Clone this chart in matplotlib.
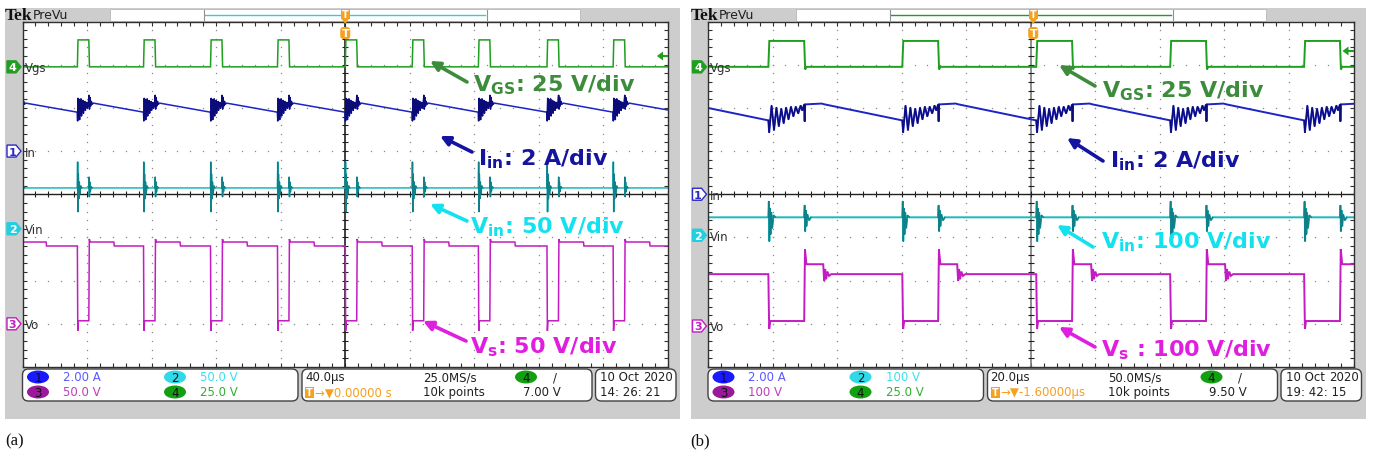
import numpy as np
import matplotlib.pyplot as plt
from matplotlib.patches import Rectangle, FancyBboxPatch, Ellipse, Polygon

W, H = 1380, 460

# ---------------- panel (a): 40 us/div, trigger at centre ----------------
# Vgs rising edges in us (one extra edge each side of the screen)
edges_a = [-208, -166, -125, -83.5, -42, 0, 41.5, 82.5, 125, 166, 207.5]

# one switching cycle, time after the rising edge (us) and value
vgs_a_dt = [0, 0.4, 7.1, 7.5]
vgs_a = [0, 15.6, 15.6, 0]                                   # V

iin_a_dt = [0, 0.15, 0.45, 0.75, 1.05, 1.35, 1.65, 1.95, 2.25, 2.55,
            2.85, 3.15, 3.45, 3.75, 4.05, 4.35, 4.65, 4.95, 5.25, 5.55,
            5.85, 6.15, 6.45, 6.75, 7.2, 7.5, 7.8, 8.2, 8.6, 9.2, 10.0]
iin_a = [1.80, 1.39, 2.45, 1.55, 2.40, 1.45, 2.30, 1.70, 2.42, 1.62,
         2.28, 1.85, 2.35, 1.75, 2.25, 1.95, 2.30, 1.88, 2.22, 2.05,
         2.26, 1.98, 2.20, 2.08, 2.59, 1.94, 2.49, 2.08, 2.31, 2.17, 2.22]   # A

vin_a_dt = [0, 0.15, 0.35, 0.6, 0.9, 1.2, 1.6, 2.1, 2.8, 7.1, 7.25, 7.45, 7.7, 8.0, 8.5, 9.2]
vin_a = [47.3, 77.4, 19.6, 63.5, 34.6, 54.3, 40.4, 49.7, 47.3,
         47.3, 60.0, 37.0, 54.3, 42.7, 49.0, 47.3]          # V

vs_a_dt = [0, 0.25, 0.6, 7.1, 7.4, 7.9, 22.6, 22.9]
vs_a = [90.1, -8.1, 3.5, 3.5, 98.2, 94.7, 94.7, 90.1]        # V

# ---------------- panel (b): 20 us/div ----------------
edges_b = [-122.8, -81.3, -39.8, 1.7, 43.2, 84.7, 126.2]

vgs_b_dt = [0, 0.3, 11.1, 11.4, 11.8]
vgs_b = [0, 15.0, 15.0, -1.5, 0]

iin_b_dt = [0, 0.25, 1.0, 1.75, 2.5, 3.25, 4.0, 4.75, 5.5, 6.25, 7.0, 7.75, 8.5,
            9.25, 10.0, 10.5, 11.1, 11.25, 11.4, 16.5, 17.5]
iin_b = [3.42, 2.86, 4.11, 2.96, 4.02, 3.14, 3.97, 3.28, 4.02, 3.46, 4.06, 3.60, 4.06,
         3.74, 4.11, 3.88, 4.16, 3.37, 4.16, 4.20, 4.16]

vin_b_dt = [0, 0.15, 0.3, 0.5, 0.7, 0.9, 1.2, 1.6, 2.2,
            11.1, 11.25, 11.4, 11.6, 11.8, 12.1, 12.6, 13.2]
vin_b = [41.6, 78.5, -13.9, 62.4, 2.3, 53.1, 16.2, 46.2, 41.6,
         41.6, 69.3, 9.2, 57.7, 20.8, 48.5, 34.6, 41.6]

vs_b_dt = [0, 0.25, 0.6, 11.1, 11.35, 11.8, 17.0, 17.3, 17.6, 17.9, 18.3, 18.8, 19.5]
vs_b = [120, -7, 11.5, 11.5, 178, 143, 143, 104, 132, 108, 126, 116, 120]

# darker (dense) parts of each trace: index ranges inside one cycle
dark_a = [[], [(0, 30)], [(0, 9), (9, 16)], []]
dark_b = [[], [(0, 19)], [(0, 9), (9, 17)], []]

# channel settings: volts(amps)/div and ground position (div)
scales_a = [25, 2, 50, 50]        # ch4 Vgs, ch1 In, ch2 Vin, ch3 Vo
scales_b = [25, 2, 100, 100]
pos_a = [2.95, 1.0, -0.8, -3.0]
pos_b = [2.95, 0.0, -0.95, -3.05]

ch_nums = ['4', '1', '2', '3']
ch_names = ['Vgs', 'In', 'Vin', 'Vo']

info_a = ['2.00 A', '50.0 V', '50.0 V', '25.0 V', '40.0µs', '25.0MS/s',
          '→▼0.00000 s', '10k points', '7.00 V', '10 Oct', '2020', '14: 26: 21']
info_b = ['2.00 A', '100 V', '100 V', '25.0 V', '20.0µs', '50.0MS/s',
          '→▼-1.60000µs', '10k points', '9.50 V', '10 Oct', '2020', '19: 42: 15']

labels_a = [r'$\mathbf{V_{GS}}$: 25 V/div', r'$\mathbf{I_{in}}$: 2 A/div',
            r'$\mathbf{V_{in}}$: 50 V/div', r'$\mathbf{V_{s}}$: 50 V/div']
labels_b = [r'$\mathbf{V_{GS}}$: 25 V/div', r'$\mathbf{I_{in}}$: 2 A/div',
            r'$\mathbf{V_{in}}$: 100 V/div', r'$\mathbf{V_{s}}$ : 100 V/div']

TR_COL = ['#1f9e1f', '#1c24c4', '#1cb8be', '#c21cc2']     # trace colours
DK_COL = [None, '#0c0c78', '#0f8088', None]
LB_COL = ['#3c8c3c', '#1414a0', '#12e2f0', '#e01ee0']     # annotation colours
MK_COL = ['#1f9e1f', '#2a2ac8', '#22cfe0', '#c21cc2']

GREY = '#cdcdcd'
ORANGE = '#f5a01e'
GY0, GY1 = 22.5, 368.0
GYC = (GY0 + GY1) / 2
DIVY = (GY1 - GY0) / 8

fig = plt.figure(figsize=(W / 100, H / 100), dpi=100)
base = fig.add_axes([0, 0, 1, 1])
base.set_xlim(0, W)
base.set_ylim(H, 0)
base.axis('off')


def graticule(gx0, gx1, center_col):
    ax = fig.add_axes([gx0 / W, 1 - GY1 / H, (gx1 - gx0) / W, (GY1 - GY0) / H])
    ax.set_xlim(-5, 5)
    ax.set_ylim(-4, 4)
    ax.set_facecolor('white')
    fine_x = np.arange(-5, 5.01, 0.2)
    fine_y = np.arange(-4, 4.01, 0.2)
    for i in range(-4, 5):
        if i != 0:
            ax.plot(np.full_like(fine_y, i), fine_y, ls='none', marker='s', ms=0.9,
                    color='#8a8a8a', mew=0)
    for j in range(-3, 4):
        if j != 0:
            ax.plot(fine_x, np.full_like(fine_x, j), ls='none', marker='s', ms=0.9,
                    color='#8a8a8a', mew=0)
    ax.axhline(0, color='#202020', lw=1.0)
    ax.axvline(0, color=center_col, lw=1.2)
    ax.plot(fine_x, np.zeros_like(fine_x), ls='none', marker='|', ms=5, color='#202020', mew=0.8)
    ax.plot(np.zeros_like(fine_y), fine_y, ls='none', marker='_', ms=5, color='#202020', mew=0.8)
    ax.set_xticks(fine_x)
    ax.set_yticks(fine_y)
    ax.tick_params(direction='in', length=3, width=0.8, color='#303030', top=True, right=True,
                   labelbottom=False, labelleft=False)
    for s in ax.spines.values():
        s.set_color('#303030')
        s.set_linewidth(1.0)
    return ax


def trace(ax, edges, dt, vals, tdiv, scale, pos, color, lw, dark, dark_col):
    dt = np.asarray(dt, float)
    vals = np.asarray(vals, float)
    t = np.concatenate([e + dt for e in edges])
    v = np.tile(vals, len(edges))
    ax.plot(t / tdiv, v / scale + pos, color=color, lw=lw, solid_joinstyle='miter')
    for e in edges:
        for i0, i1 in dark:
            ax.plot((e + dt[i0:i1]) / tdiv, vals[i0:i1] / scale + pos, color=dark_col, lw=0.9)


def panel(dx, gx1, tdiv, edges, data, dark, scales, pos, info, labels, label_xy, arrows,
          center_col, bar_col, trig_y, caption, lw):
    gx0 = 22.5 + dx
    # grey scope frame and top bar
    base.add_patch(Rectangle((5 + dx, 9), 675, 411, fc=GREY, ec='none'))
    base.add_patch(Rectangle((110 + dx, 9.5), 470, 12.5, fc='white', ec='#b8b8b8', lw=0.6))
    base.plot([205 + dx, 485 + dx], [15.5, 15.5], color=bar_col, lw=1.0)
    base.plot([204 + dx, 204 + dx], [11, 21], color='#909090', lw=0.8)
    base.plot([487 + dx, 487 + dx], [11, 21], color='#909090', lw=0.8)
    base.text(5 + dx, 16, 'Tek', fontsize=12.5, fontweight='bold', family='Liberation Serif',
              va='center', ha='left', color='#101010')
    base.text(33 + dx, 15.5, 'PreVu', fontsize=9, va='center', color='#202020')

    ax = graticule(gx0, gx1, center_col)
    for k, (dt, vals) in enumerate(data):
        trace(ax, edges, dt, vals, tdiv, scales[k], pos[k], TR_COL[k], lw, dark[k], DK_COL[k])

    ov = fig.add_axes([0, 0, 1, 1])
    ov.set_xlim(0, W)
    ov.set_ylim(H, 0)
    ov.axis('off')

    # channel ground markers + names
    for k in range(4):
        y = GYC - pos[k] * DIVY
        filled = k in (0, 2)
        ov.add_patch(Polygon([(7 + dx, y - 6), (16 + dx, y - 6), (21 + dx, y), (16 + dx, y + 6),
                              (7 + dx, y + 6)], closed=True, fc=MK_COL[k] if filled else 'white',
                             ec=MK_COL[k], lw=1.0))
        ov.text(12.5 + dx, y + 0.5, ch_nums[k], fontsize=8, ha='center', va='center',
                color='white' if filled else MK_COL[k], fontweight='bold')
        ov.text(gx0 + 2, y + 1, ch_names[k], fontsize=8.5, ha='left', va='center',
                color='#303030')

    # trigger markers
    tx = (gx0 + gx1) / 2 + (0 if dx == 0 else 2.5)
    ov.add_patch(Rectangle((tx - 4.5, 9.5), 9, 10, fc=ORANGE, ec='none'))
    ov.text(tx, 14.5, 'T', fontsize=7, color='white', ha='center', va='center', fontweight='bold')
    ov.add_patch(Polygon([(tx - 4, 19.5), (tx + 4, 19.5), (tx, 25)], fc=ORANGE, ec='none'))
    ov.add_patch(FancyBboxPatch((tx - 5, 28), 10, 12, boxstyle='round,pad=0,rounding_size=3',
                                fc=ORANGE, ec='none'))
    ov.text(tx, 34, 'T', fontsize=8, color='white', ha='center', va='center', fontweight='bold')
    # trigger level arrow on the right edge
    ov.add_patch(Polygon([(gx1 - 11, trig_y), (gx1 - 5, trig_y - 4.5), (gx1 - 5, trig_y + 4.5)],
                         fc=TR_COL[0], ec='none'))
    ov.plot([gx1 - 6, gx1 - 1], [trig_y, trig_y], color=TR_COL[0], lw=1.5)

    # annotation labels and arrows
    for k in range(4):
        ov.text(label_xy[k][0], label_xy[k][1], labels[k], fontsize=16, fontweight='bold',
                color=LB_COL[k], ha='left', va='baseline')
        (x1, y1), (x2, y2) = arrows[k]
        ov.annotate('', xy=(x2, y2), xytext=(x1, y1),
                    arrowprops=dict(arrowstyle='-|>', color=LB_COL[k], lw=2.6,
                                    mutation_scale=14, shrinkA=0, shrinkB=0))

    # read-out boxes
    r1, r2 = 378, 393
    for x0, x1 in [(22.5, 298), (302, 592), (595.5, 676)]:
        ov.add_patch(FancyBboxPatch((x0 + dx, 370), x1 - x0, 32,
                                    boxstyle='round,pad=0,rounding_size=6',
                                    fc='white', ec='#404040', lw=1.0))
    ovals = [('1', '#1a1aff', 38, r1), ('2', '#30d8e8', 175, r1),
             ('3', '#9a189a', 38, r2), ('4', '#12a012', 175, r2), ('4', '#12a012', 526, r1)]
    for num, c, x, y in ovals:
        ov.add_patch(Ellipse((x + dx, y), 22, 13, fc=c, ec='none'))
        ov.text(x + dx, y + 0.5, num, fontsize=8.5, ha='center', va='center', color='#101010')
    kw = dict(fontsize=8.5, va='center')
    ov.text(63 + dx, r1, info[0], color='#5a5aff', **kw)
    ov.text(200 + dx, r1, info[1], color='#3ce0ee', **kw)
    ov.text(63 + dx, r2, info[2], color='#c03cc0', **kw)
    ov.text(200 + dx, r2, info[3], color='#2eb02e', **kw)
    ov.text(305 + dx, r1, info[4], color='#202020', **kw)
    ov.text(423 + dx, r1, info[5], color='#202020', **kw)
    ov.add_patch(Rectangle((305 + dx, r2 - 5.5), 9, 11, fc=ORANGE, ec='none'))
    ov.text(309.5 + dx, r2, 'T', fontsize=7, color='white', ha='center', va='center',
            fontweight='bold')
    ov.text(315 + dx, r2, info[6], color=ORANGE, **kw)
    ov.text(423 + dx, r2, info[7], color='#202020', **kw)
    ov.text(553 + dx, r1, '/', color='#202020', **kw)
    ov.text(561 + dx, r2, info[8], color='#202020', ha='right', **kw)
    ov.text(600 + dx, r1, info[9], color='#202020', **kw)
    ov.text(673 + dx, r1, info[10], color='#202020', ha='right', **kw)
    ov.text(600 + dx, r2, info[11], color='#202020', **kw)

    ov.text(5 + dx, 441, caption, fontsize=12, family='Liberation Serif', va='center',
            color='#101010')


panel(0, 668.0, 40.0, edges_a,
      [(vgs_a_dt, vgs_a), (iin_a_dt, iin_a), (vin_a_dt, vin_a), (vs_a_dt, vs_a)], dark_a,
      scales_a, pos_a, info_a, labels_a,
      [(473, 91), (478, 165), (470, 233), (470, 353)],
      [((467, 83), (430, 62)), ((472, 153), (440, 137)),
       ((467, 222), (430, 205)), ((466, 342), (423, 322))],
      '#202020', '#3cc8d8', 57, '(a)', 1.1)

panel(685.5, 1353.5, 20.0, edges_b,
      [(vgs_b_dt, vgs_b), (iin_b_dt, iin_b), (vin_b_dt, vin_b), (vs_b_dt, vs_b)], dark_b,
      scales_b, pos_b, info_b, labels_b,
      [(1102, 97), (1110, 167), (1101, 248), (1101, 356)],
      [((1095, 87), (1059, 66)), ((1103, 162), (1067, 139)),
       ((1093, 248), (1057, 226)), ((1095, 348), (1059, 328))],
      '#7a7a7a', '#1f9e1f', 52, '(b)', 1.4)

fig.savefig('out.png', dpi=100, facecolor='white')
